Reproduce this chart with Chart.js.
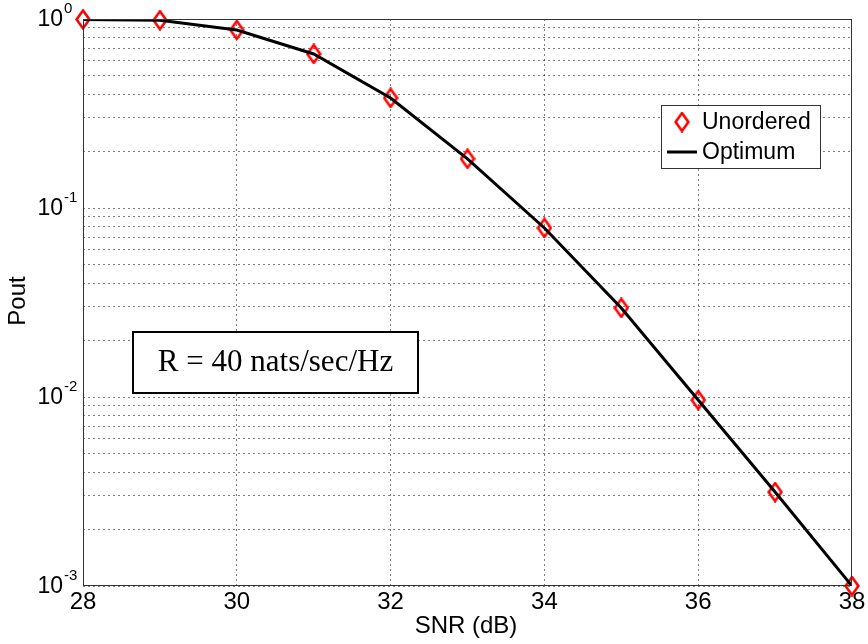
<!DOCTYPE html>
<html>
<head>
<meta charset="utf-8">
<script src="https://cdn.jsdelivr.net/npm/chart.js@4/dist/chart.umd.min.js"></script>
<style>
  html, body { margin: 0; padding: 0; background: #fff; }
  #wrap { width: 868px; height: 644px; }
</style>
</head>
<body>
<div id="wrap"><canvas id="pout"></canvas></div>
<script>
// values
const snr = [28, 29, 30, 31, 32, 33, 34, 35, 36, 37, 38];
const unordered = [0.995, 0.985, 0.875, 0.653, 0.382, 0.182, 0.0784, 0.0296, 0.00964, 0.00314, 0.001];
const optimum = [0.995, 0.985, 0.875, 0.653, 0.382, 0.182, 0.0784, 0.0296, 0.00964, 0.00314, 0.001];
const xTicks = [28, 30, 32, 34, 36, 38];
const decades = [-3, -2, -1, 0];

const FONT = 'Arial, "Liberation Sans", sans-serif';

// tall red diamond like the matlab marker
function diamond(w, h, lw) {
  const c = document.createElement('canvas');
  c.width = w; c.height = h;
  const g = c.getContext('2d');
  const m = lw / 2 + 0.3;
  g.beginPath();
  g.moveTo(w / 2, m);
  g.lineTo(w - m, h / 2);
  g.lineTo(w / 2, h - m);
  g.lineTo(m, h / 2);
  g.closePath();
  g.strokeStyle = '#ff0000';
  g.lineWidth = lw;
  g.stroke();
  return c;
}
const marker = diamond(16, 21, 2.6);

const extras = {
  id: 'extras',
  afterDraw(chart) {
    const { ctx, chartArea: a, scales: { y } } = chart;
    ctx.save();
    // axes box
    ctx.strokeStyle = '#333';
    ctx.lineWidth = 1;
    ctx.strokeRect(a.left + 0.5, a.top + 0.5, a.right - a.left - 1, a.bottom - a.top - 1);

    // y tick labels 10^n
    ctx.fillStyle = '#000';
    decades.forEach(e => {
      const py = y.getPixelForValue(Math.pow(10, e));
      ctx.font = '23px ' + FONT;
      ctx.textAlign = 'right';
      ctx.textBaseline = 'middle';
      ctx.fillText('10', 63, py + 1);
      ctx.font = '15px ' + FONT;
      ctx.textAlign = 'left';
      ctx.fillText(String(e), 64, py - 10);
    });

    // axis titles
    ctx.font = '24px ' + FONT;
    ctx.textAlign = 'center';
    ctx.textBaseline = 'middle';
    ctx.fillText('SNR (dB)', 466, 626);
    ctx.save();
    ctx.translate(18, 301);
    ctx.rotate(-Math.PI / 2);
    ctx.fillText('Pout', 0, 0);
    ctx.restore();

    // legend
    ctx.fillStyle = '#fff';
    ctx.fillRect(661, 105, 159, 63);
    ctx.strokeStyle = '#333';
    ctx.strokeRect(661.5, 105.5, 159, 63);
    ctx.drawImage(marker, 682 - 8, 122 - 10.5);
    ctx.strokeStyle = '#000';
    ctx.lineWidth = 3;
    ctx.beginPath();
    ctx.moveTo(667, 152);
    ctx.lineTo(697, 152);
    ctx.stroke();
    ctx.fillStyle = '#000';
    ctx.font = '23px ' + FONT;
    ctx.textAlign = 'left';
    ctx.fillText('Unordered', 702, 123);
    ctx.fillText('Optimum', 702, 153);

    // annotation box
    ctx.fillStyle = '#fff';
    ctx.fillRect(133, 332, 285, 61);
    ctx.strokeStyle = '#000';
    ctx.lineWidth = 2;
    ctx.strokeRect(133, 332, 285, 61);
    ctx.fillStyle = '#000';
    ctx.font = '31px "Liberation Serif", "Times New Roman", serif';
    ctx.textAlign = 'center';
    ctx.fillText('R = 40 nats/sec/Hz', 275.5, 363);
    ctx.restore();
  }
};

new Chart(document.getElementById('pout'), {
  type: 'line',
  plugins: [extras],
  data: {
    datasets: [
      {
        label: 'Unordered',
        data: snr.map((x, i) => ({ x, y: unordered[i] })),
        showLine: false,
        pointStyle: marker,
        pointRadius: 8,
        clip: false,
        order: 1
      },
      {
        label: 'Optimum',
        data: snr.map((x, i) => ({ x, y: optimum[i] })),
        borderColor: '#000',
        borderWidth: 3,
        pointRadius: 0,
        tension: 0,
        order: 0
      }
    ]
  },
  options: {
    responsive: true,
    maintainAspectRatio: false,
    animation: false,
    layout: { padding: { top: 19, right: 16, left: 0, bottom: 0 } },
    plugins: { legend: { display: false }, tooltip: { enabled: false } },
    scales: {
      x: {
        type: 'linear',
        min: 28,
        max: 38,
        afterBuildTicks(scale) { scale.ticks = xTicks.map(v => ({ value: v })); },
        afterFit(scale) { scale.height = 58; },
        ticks: {
          color: '#000',
          font: { family: FONT, size: 24 },
          padding: 2,
          maxRotation: 0,
          autoSkip: false
        },
        grid: {
          color: ctx => (ctx.tick && (ctx.tick.value === 28 || ctx.tick.value === 38)) ? 'rgba(0,0,0,0)' : 'rgba(0,0,0,0.5)',
          lineWidth: 1,
          drawTicks: false
        },
        border: { display: false, dash: [2, 3] }
      },
      y: {
        type: 'logarithmic',
        min: 0.001,
        max: 1,
        afterBuildTicks(scale) {
          const t = [];
          decades.forEach(e => {
            for (let m = 1; m <= 9; m++) {
              const v = m * Math.pow(10, e);
              if (v >= 0.001 && v <= 1) t.push({ value: v });
            }
          });
          scale.ticks = t;
        },
        afterFit(scale) { scale.width = 83; },
        ticks: { display: false, autoSkip: false },
        grid: {
          color: 'rgba(0,0,0,0.5)',
          lineWidth: 1,
          drawTicks: false
        },
        border: { display: false, dash: [2, 3] }
      }
    }
  }
});
</script>
</body>
</html>
